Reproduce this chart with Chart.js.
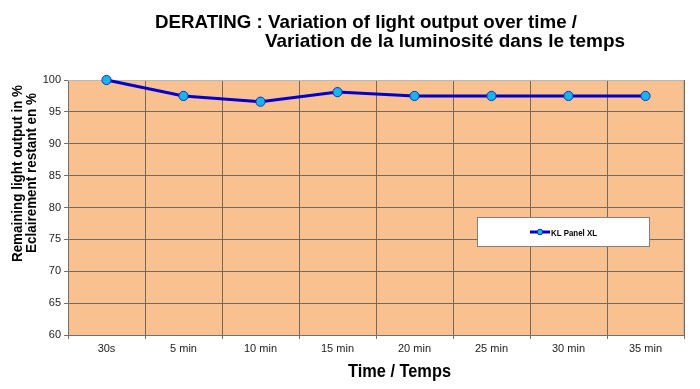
<!DOCTYPE html>
<html>
<head>
<meta charset="utf-8">
<script src="https://cdn.jsdelivr.net/npm/chart.js@4"></script>
<style>
html,body{margin:0;padding:0;background:#fff;}
#wrap{position:relative;width:700px;height:389px;}
</style>
</head>
<body>
<div id="wrap"><canvas id="c" width="700" height="389"></canvas></div>
<script>
const categories = ['30s', '5 min', '10 min', '15 min', '20 min', '25 min', '30 min', '35 min'];
const seriesName = 'KL Panel XL';
const remainingOutput = [100, 97.5, 96.6, 98.1, 97.5, 97.5, 97.5, 97.5];
const yTicks = [60, 65, 70, 75, 80, 85, 90, 95, 100];
const titleLines = ['DERATING : Variation of light output over time /', 'Variation de la luminosité dans le temps'];
const yTitleLines = ['Remaining light output in %', 'Eclairement restant en %'];
const xTitle = 'Time / Temps';

const FONT = '"Liberation Sans", Arial, sans-serif';

function fitText(ctx, text, x, y, width, font, align) {
  ctx.save();
  ctx.font = font;
  const w = ctx.measureText(text).width;
  const s = width / w;
  ctx.translate(x, y);
  ctx.scale(s, 1);
  ctx.textBaseline = 'alphabetic';
  ctx.textAlign = align || 'left';
  ctx.fillText(text, 0, 0);
  ctx.restore();
}

const decor = {
  id: 'decor',
  beforeDraw(chart) {
    const {ctx, chartArea: a} = chart;
    ctx.save();
    ctx.fillStyle = '#F9C190';
    ctx.fillRect(a.left, a.top, a.right - a.left, a.bottom - a.top);
    ctx.restore();
  },
  beforeDatasetsDraw(chart) {
    const ctx = chart.ctx;
    const a = chart.chartArea;
    ctx.save();
    ctx.strokeStyle = '#b8b8b8';
    ctx.lineWidth = 1;
    ctx.beginPath();
    ctx.moveTo(a.left, a.top + 0.5);
    ctx.lineTo(a.right - 0.5, a.top + 0.5);
    ctx.lineTo(a.right - 0.5, a.bottom);
    ctx.stroke();
    ctx.restore();
  },
  afterDraw(chart) {
    const ctx = chart.ctx;
    ctx.save();
    ctx.fillStyle = '#000';
    // chart title
    fitText(ctx, titleLines[0], 155, 28, 422, 'bold 19px ' + FONT);
    fitText(ctx, titleLines[1], 265, 47, 360, 'bold 19px ' + FONT);
    // y-axis title (rotated)
    ctx.save();
    ctx.rotate(-Math.PI / 2);
    fitText(ctx, yTitleLines[0], -262, 22, 177, 'bold 14px ' + FONT);
    fitText(ctx, yTitleLines[1], -253, 36, 160, 'bold 14px ' + FONT);
    ctx.restore();
    // x-axis title
    fitText(ctx, xTitle, 348, 377, 103, 'bold 19px ' + FONT);

    // legend
    const ds = chart.data.datasets[0];
    const lx = 477, ly = 217, lw = 172, lh = 29;
    ctx.fillStyle = '#ffffff';
    ctx.fillRect(lx, ly, lw, lh);
    ctx.strokeStyle = '#808080';
    ctx.lineWidth = 1;
    ctx.strokeRect(lx + 0.5, ly + 0.5, lw, lh);
    const cy = ly + 15;
    ctx.strokeStyle = ds.borderColor;
    ctx.lineWidth = 3;
    ctx.beginPath();
    ctx.moveTo(530, cy);
    ctx.lineTo(550, cy);
    ctx.stroke();
    ctx.fillStyle = ds.pointBackgroundColor;
    ctx.strokeStyle = ds.pointBorderColor;
    ctx.lineWidth = 1;
    ctx.beginPath();
    ctx.arc(540, cy, 2.8, 0, Math.PI * 2);
    ctx.fill();
    ctx.stroke();
    ctx.fillStyle = '#000';
    fitText(ctx, ds.label, 551, cy + 3.5, 46, 'bold 9.5px ' + FONT);
    ctx.restore();
  }
};

new Chart(document.getElementById('c'), {
  type: 'line',
  data: {
    labels: categories,
    datasets: [{
      label: seriesName,
      data: remainingOutput,
      borderColor: '#0000CC',
      borderWidth: 3,
      pointBackgroundColor: '#19B4F0',
      pointBorderColor: '#1030C0',
      pointBorderWidth: 1,
      pointRadius: 4.6,
      tension: 0,
      fill: false,
      clip: false
    }]
  },
  options: {
    responsive: false,
    animation: false,
    devicePixelRatio: 1,
    layout: {padding: {top: 80, right: 16, left: 0, bottom: 0}},
    plugins: {legend: {display: false}, title: {display: false}, tooltip: {enabled: false}},
    scales: {
      x: {
        type: 'category',
        offset: true,
        grid: {
          offset: true,
          color: '#7a6856',
          lineWidth: 1,
          drawTicks: true,
          tickLength: 4,
          tickColor: '#707070'
        },
        border: {color: '#707070', width: 1},
        ticks: {
          color: '#222',
          font: {family: FONT, size: 11},
          padding: 3,
          maxRotation: 0,
          autoSkip: false
        },
        afterFit(scale) { scale.height = 54; }
      },
      y: {
        min: 60,
        max: 100,
        afterBuildTicks(scale) { scale.ticks = yTicks.map(v => ({value: v})); },
        grid: {
          color: (c) => (c.tick && c.tick.value === 100) ? '#c8c8c8' : '#7a6856',
          lineWidth: 1,
          drawTicks: true,
          tickLength: 4,
          tickColor: '#707070'
        },
        border: {color: '#707070', width: 1},
        ticks: {
          color: '#222',
          font: {family: FONT, size: 11},
          padding: 3
        },
        afterFit(scale) { scale.width = 68; }
      }
    }
  },
  plugins: [decor]
});
</script>
</body>
</html>
